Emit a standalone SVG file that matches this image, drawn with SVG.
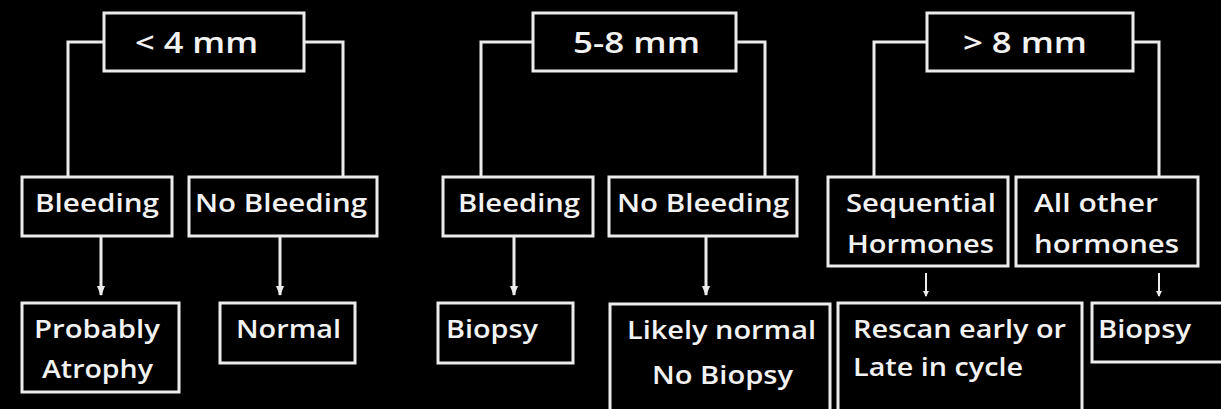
<svg xmlns="http://www.w3.org/2000/svg" width="1221" height="409" viewBox="0 0 1221 409">
<style>
.bx{fill:#000;stroke:#ececec;stroke-width:3}
.ln{fill:none;stroke:#ececec;stroke-width:3}
.thin{fill:none;stroke:#ececec;stroke-width:2}
.t{font-family:"Open Sans","Liberation Sans",sans-serif;font-weight:600;font-size:26px;fill:#f2f2f2}
.h{font-size:28px}
</style>
<defs>
<marker id="ah" viewBox="0 0 10 8" refX="9" refY="4" markerWidth="10" markerHeight="8" markerUnits="userSpaceOnUse" orient="auto">
<path d="M0,0 L10,4 L0,8 Z" fill="#ececec"/>
</marker>
<marker id="ahs" viewBox="0 0 6 6" refX="5" refY="3" markerWidth="6" markerHeight="6" markerUnits="userSpaceOnUse" orient="auto">
<path d="M0,0 L6,3 L0,6 Z" fill="#ececec"/>
</marker>
</defs>
<rect width="1221" height="409" fill="#000"/>
<g id="connectors">
<path class="ln" d="M104,42 H68 V177"/>
<path class="ln" d="M304,42 H343 V177"/>
<path class="ln" d="M101,236 V295" marker-end="url(#ah)"/>
<path class="ln" d="M280,236 V295" marker-end="url(#ah)"/>
<path class="ln" d="M533,42 H481 V177"/>
<path class="ln" d="M736,42 H765 V177"/>
<path class="ln" d="M514,236 V295" marker-end="url(#ah)"/>
<path class="ln" d="M706,236 V295" marker-end="url(#ah)"/>
<path class="ln" d="M927,42 H874 V177"/>
<path class="ln" d="M1133,42 H1159 V177"/>
<path class="thin" d="M926,273 V296" marker-end="url(#ahs)"/>
<path class="thin" d="M1159,273 V296" marker-end="url(#ahs)"/>
</g>
<g id="n-lt4">
<rect class="bx" x="104" y="13" width="200" height="58"/>
<text class="t h" x="135" y="53" textLength="123" lengthAdjust="spacingAndGlyphs">&lt; 4 mm</text>
</g>
<g id="n-bleed1">
<rect class="bx" x="22" y="177" width="150" height="59"/>
<text class="t" x="35" y="212" textLength="124" lengthAdjust="spacingAndGlyphs">Bleeding</text>
</g>
<g id="n-nobleed1">
<rect class="bx" x="189" y="177" width="188" height="59"/>
<text class="t" x="195" y="212" textLength="172" lengthAdjust="spacingAndGlyphs">No Bleeding</text>
</g>
<g id="n-atrophy">
<rect class="bx" x="22" y="303" width="157" height="89"/>
<text class="t" x="34" y="338" textLength="126" lengthAdjust="spacingAndGlyphs">Probably</text>
<text class="t" x="42" y="378" textLength="111" lengthAdjust="spacingAndGlyphs">Atrophy</text>
</g>
<g id="n-normal">
<rect class="bx" x="220" y="303" width="135" height="60"/>
<text class="t" x="236" y="338" textLength="105" lengthAdjust="spacingAndGlyphs">Normal</text>
</g>
<g id="n-5to8">
<rect class="bx" x="533" y="13" width="203" height="58"/>
<text class="t h" x="573" y="53" textLength="127" lengthAdjust="spacingAndGlyphs">5-8 mm</text>
</g>
<g id="n-bleed2">
<rect class="bx" x="443" y="177" width="150" height="59"/>
<text class="t" x="458" y="212" textLength="122" lengthAdjust="spacingAndGlyphs">Bleeding</text>
</g>
<g id="n-nobleed2">
<rect class="bx" x="609" y="177" width="188" height="59"/>
<text class="t" x="617" y="212" textLength="172" lengthAdjust="spacingAndGlyphs">No Bleeding</text>
</g>
<g id="n-biopsy2">
<rect class="bx" x="438" y="303" width="135" height="60"/>
<text class="t" x="446" y="338" textLength="92" lengthAdjust="spacingAndGlyphs">Biopsy</text>
</g>
<g id="n-likely">
<rect class="bx" x="610" y="304" width="220" height="110"/>
<text class="t" x="627" y="339" textLength="189" lengthAdjust="spacingAndGlyphs">Likely normal</text>
<text class="t" x="652" y="384" textLength="141" lengthAdjust="spacingAndGlyphs">No Biopsy</text>
</g>
<g id="n-gt8">
<rect class="bx" x="927" y="13" width="206" height="58"/>
<text class="t h" x="963" y="53" textLength="124" lengthAdjust="spacingAndGlyphs">&gt; 8 mm</text>
</g>
<g id="n-seq">
<rect class="bx" x="828" y="177" width="180" height="89"/>
<text class="t" x="846" y="212" textLength="150" lengthAdjust="spacingAndGlyphs">Sequential</text>
<text class="t" x="847" y="253" textLength="147" lengthAdjust="spacingAndGlyphs">Hormones</text>
</g>
<g id="n-allother">
<rect class="bx" x="1016" y="177" width="182" height="89"/>
<text class="t" x="1034" y="212" textLength="124" lengthAdjust="spacingAndGlyphs">All other</text>
<text class="t" x="1034" y="253" textLength="145" lengthAdjust="spacingAndGlyphs">hormones</text>
</g>
<g id="n-rescan">
<rect class="bx" x="838" y="303" width="244" height="111"/>
<text class="t" x="853" y="338" textLength="213" lengthAdjust="spacingAndGlyphs">Rescan early or</text>
<text class="t" x="853" y="376" textLength="170" lengthAdjust="spacingAndGlyphs">Late in cycle</text>
</g>
<g id="n-biopsy3">
<rect class="bx" x="1092" y="303" width="135" height="59"/>
<text class="t" x="1098" y="338" textLength="93" lengthAdjust="spacingAndGlyphs">Biopsy</text>
</g>
</svg>
